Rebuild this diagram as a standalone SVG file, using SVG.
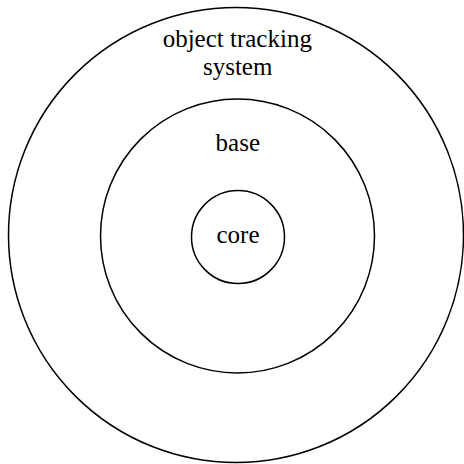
<svg xmlns="http://www.w3.org/2000/svg" width="464" height="464" viewBox="0 0 464 464">
<style>
.ring{fill:none;stroke:#000;stroke-width:1.5}
.lbl{font-family:"Liberation Serif","Times New Roman",serif;font-size:25px;fill:#000;text-anchor:middle}
</style>
<rect width="464" height="464" fill="#fff"/>
<g id="system">
<circle class="ring" cx="236" cy="235" r="227.5"/>
<text class="lbl" x="237.3" y="47.3">object tracking</text>
<text class="lbl" x="237.7" y="75">system</text>
</g>
<g id="base">
<circle class="ring" cx="237.5" cy="236" r="137"/>
<text class="lbl" x="237.8" y="151">base</text>
</g>
<g id="core">
<circle class="ring" cx="238" cy="237" r="46.5"/>
<text class="lbl" x="238" y="243">core</text>
</g>
<g id="connectors"/>
</svg>
